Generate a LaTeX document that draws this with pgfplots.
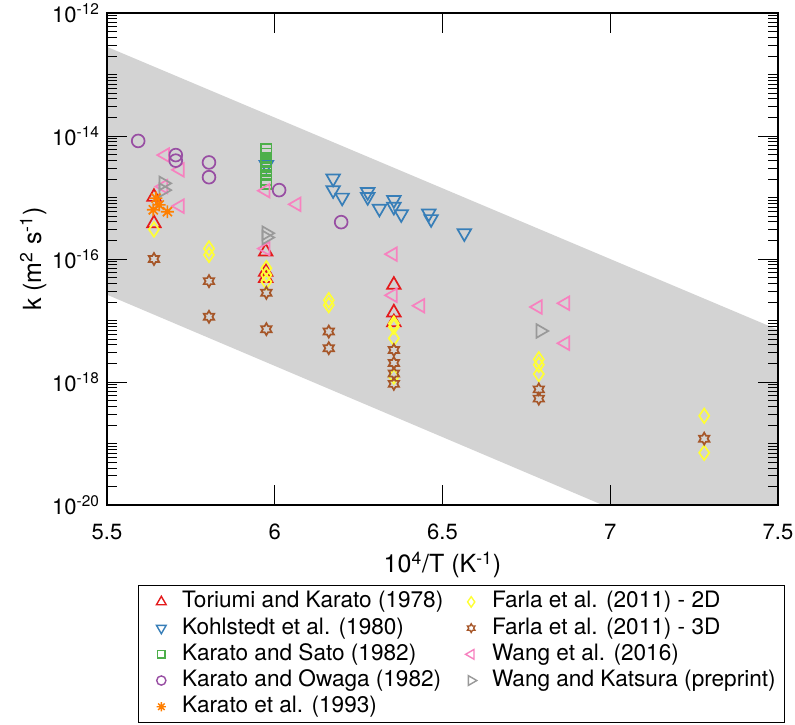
\documentclass[border=0pt]{standalone}
\usepackage{fontspec}
\setmainfont{TeX Gyre Heros}
\usepackage{pgfplots}
\pgfplotsset{compat=1.18}
\definecolor{cRed}{RGB}{228,26,28}
\definecolor{cBlue}{RGB}{55,126,184}
\definecolor{cGreen}{RGB}{77,175,74}
\definecolor{cPurple}{RGB}{152,78,163}
\definecolor{cOrange}{RGB}{255,127,0}
\definecolor{cYellow}{RGB}{255,255,51}
\definecolor{cBrown}{RGB}{166,86,40}
\definecolor{cPink}{RGB}{247,129,191}
\definecolor{cGray}{RGB}{153,153,153}
\definecolor{band}{RGB}{211,211,211}
\pgfdeclareplotmark{hexagram}{%
  \pgfpathmoveto{\pgfpointpolar{90}{\pgfplotmarksize}}%
  \pgfpathlineto{\pgfpointpolar{120}{0.577\pgfplotmarksize}}%
  \pgfpathlineto{\pgfpointpolar{150}{\pgfplotmarksize}}%
  \pgfpathlineto{\pgfpointpolar{180}{0.577\pgfplotmarksize}}%
  \pgfpathlineto{\pgfpointpolar{210}{\pgfplotmarksize}}%
  \pgfpathlineto{\pgfpointpolar{240}{0.577\pgfplotmarksize}}%
  \pgfpathlineto{\pgfpointpolar{270}{\pgfplotmarksize}}%
  \pgfpathlineto{\pgfpointpolar{300}{0.577\pgfplotmarksize}}%
  \pgfpathlineto{\pgfpointpolar{330}{\pgfplotmarksize}}%
  \pgfpathlineto{\pgfpointpolar{0}{0.577\pgfplotmarksize}}%
  \pgfpathlineto{\pgfpointpolar{30}{\pgfplotmarksize}}%
  \pgfpathlineto{\pgfpointpolar{60}{0.577\pgfplotmarksize}}%
  \pgfpathclose
  \pgfusepathqstroke}
\pgfdeclareplotmark{ast8}{%
  \pgfpathmoveto{\pgfqpoint{-\pgfplotmarksize}{0pt}}\pgfpathlineto{\pgfqpoint{\pgfplotmarksize}{0pt}}%
  \pgfpathmoveto{\pgfqpoint{0pt}{-\pgfplotmarksize}}\pgfpathlineto{\pgfqpoint{0pt}{\pgfplotmarksize}}%
  \pgfpathmoveto{\pgfqpoint{-.707\pgfplotmarksize}{-.707\pgfplotmarksize}}\pgfpathlineto{\pgfqpoint{.707\pgfplotmarksize}{.707\pgfplotmarksize}}%
  \pgfpathmoveto{\pgfqpoint{-.707\pgfplotmarksize}{.707\pgfplotmarksize}}\pgfpathlineto{\pgfqpoint{.707\pgfplotmarksize}{-.707\pgfplotmarksize}}%
  \pgfusepathqstroke}
\pgfdeclareplotmark{mydiamond}{%
  \pgfpathmoveto{\pgfqpoint{0pt}{1.3\pgfplotmarksize}}%
  \pgfpathlineto{\pgfqpoint{.9\pgfplotmarksize}{0pt}}%
  \pgfpathlineto{\pgfqpoint{0pt}{-1.3\pgfplotmarksize}}%
  \pgfpathlineto{\pgfqpoint{-.9\pgfplotmarksize}{0pt}}%
  \pgfpathclose
  \pgfusepathqstroke}
\begin{document}
\begin{tikzpicture}
\begin{axis}[
  scale only axis, width=335.5pt, height=246pt,
  xmin=5.5, xmax=7.5, ymode=log, ymin=1e-20, ymax=1e-12,
  xtick={5.5,6,6.5,7,7.5}, xticklabels={5.5,6,6.5,7,7.5},
  ytick={1e-20,1e-18,1e-16,1e-14,1e-12},
  yticklabels={10\textsuperscript{-20},10\textsuperscript{-18},10\textsuperscript{-16},10\textsuperscript{-14},10\textsuperscript{-12}},
  minor ytick={2e-20,3e-20,4e-20,5e-20,6e-20,7e-20,8e-20,9e-20,1e-19,
    2e-19,3e-19,4e-19,5e-19,6e-19,7e-19,8e-19,9e-19,
    2e-18,3e-18,4e-18,5e-18,6e-18,7e-18,8e-18,9e-18,1e-17,
    2e-17,3e-17,4e-17,5e-17,6e-17,7e-17,8e-17,9e-17,
    2e-16,3e-16,4e-16,5e-16,6e-16,7e-16,8e-16,9e-16,1e-15,
    2e-15,3e-15,4e-15,5e-15,6e-15,7e-15,8e-15,9e-15,
    2e-14,3e-14,4e-14,5e-14,6e-14,7e-14,8e-14,9e-14,1e-13,
    2e-13,3e-13,4e-13,5e-13,6e-13,7e-13,8e-13,9e-13},
  tick align=inside, xtick pos=both, ytick pos=both,
  major tick length=10pt, minor tick length=5pt,
  every tick/.style={black, line width=0.5pt},
  axis line style={black, line width=0.6pt},
  axis on top,
  tick label style={font=\fontsize{11}{13}\selectfont},
  xticklabel style={yshift=-6pt},
  xlabel={10\textsuperscript{4}/T (K\textsuperscript{-1})},
  ylabel={k (m\textsuperscript{2} s\textsuperscript{-1})},
  label style={font=\fontsize{12.5}{14}\selectfont},
  xlabel style={at={(axis description cs:0.5,-0.122)}, anchor=center},
  ylabel style={at={(axis description cs:-0.11,0.5)}, anchor=center},
  mk/.style={only marks, line width=0.85pt},
  legend columns=2,
  legend style={at={(axis description cs:0.046,-0.163)}, anchor=north west,
    draw=black, line width=0.6pt, font=\fontsize{11.3}{13}\selectfont,
    inner xsep=1pt, inner ysep=1.5pt,
    nodes={inner ysep=1.2pt, inner xsep=3.5pt, text height=8.3pt, text depth=2.4pt},
    /tikz/every even column/.append style={column sep=0pt},
    /tikz/every odd column/.append style={column sep=0.5pt}},
  legend cell align=left,
  legend image code/.code={\path (-10pt,0pt) (6pt,0pt); \draw[#1, line width=0.7pt, every mark/.append style={scale=0.72}] plot coordinates {(0pt,0pt)};},
]
\addplot[fill=band, draw=none, forget plot] coordinates {(5.5,2.82e-13) (7.5,7.08e-18) (7.5,6.17e-22) (5.5,2.63e-17)} -- cycle;

% Toriumi and Karato (1978)
\addplot[mk, cRed, mark=triangle, mark size=3.9pt] coordinates {
(5.640,1.02e-15) (5.640,3.80e-16) (5.973,1.32e-16) (5.973,6.17e-17) (5.973,4.90e-17)
(6.355,3.80e-17) (6.355,1.35e-17) (6.355,9.33e-18)};
\addlegendentry{Toriumi and Karato (1978)}
% Farla 2D
\addplot[mk, cYellow, mark=mydiamond, mark size=2.8pt] coordinates {
(5.640,3.02e-16) (5.804,1.48e-16) (5.804,1.17e-16) (5.975,7.08e-17) (5.975,5.50e-17) (5.975,4.27e-17)
(6.161,2.14e-17) (6.161,1.78e-17) (6.355,8.91e-18) (6.355,7.94e-18) (6.355,5.13e-18) (6.355,1.23e-18)
(6.787,2.34e-18) (6.787,1.91e-18) (6.787,1.35e-18) (7.280,2.82e-19) (7.280,7.08e-20)};
\addlegendentry{Farla et al. (2011) - 2D}
% Kohlstedt
\addplot[mk, cBlue, mark=triangle, mark size=3.9pt, mark options={rotate=180}] coordinates {
(5.975,3.39e-15) (6.174,2.04e-15) (6.174,1.32e-15) (6.201,1.00e-15) (6.277,1.23e-15) (6.277,1.02e-15)
(6.312,6.61e-16) (6.355,9.12e-16) (6.355,7.08e-16) (6.377,5.37e-16) (6.459,5.50e-16) (6.466,4.47e-16)
(6.565,2.63e-16)};
\addlegendentry{Kohlstedt et al. (1980)}
% Farla 3D
\addplot[mk, cBrown, mark=hexagram, mark size=3pt] coordinates {
(5.640,1.00e-16) (5.804,4.37e-17) (5.804,1.15e-17) (5.975,2.82e-17) (5.975,7.24e-18)
(6.161,6.61e-18) (6.161,3.55e-18) (6.355,3.31e-18) (6.355,2.04e-18) (6.355,1.38e-18) (6.355,9.33e-19)
(6.787,7.59e-19) (6.787,5.37e-19) (7.280,1.20e-19)};
\addlegendentry{Farla et al. (2011) - 3D}
% Karato and Sato
\addplot[mk, cGreen, mark=square, mark size=2.6pt] coordinates {
(5.975,6.03e-15) (5.975,5.13e-15) (5.975,4.37e-15) (5.975,3.72e-15) (5.975,3.16e-15)
(5.975,2.69e-15) (5.975,2.29e-15) (5.975,1.95e-15) (5.975,1.66e-15)};
\addlegendentry{Karato and Sato (1982)}
% Wang 2016
\addplot[mk, cPink, mark=triangle, mark size=3.9pt, mark options={rotate=90}] coordinates {
(5.673,4.90e-15) (5.717,2.82e-15) (5.668,1.51e-15) (5.717,7.24e-16) (5.973,1.29e-15) (6.065,7.76e-16)
(5.973,1.48e-16) (6.352,1.20e-16) (6.352,2.57e-17) (6.434,1.74e-17) (6.784,1.66e-17) (6.866,1.91e-17)
(6.866,4.27e-18)};
\addlegendentry{Wang et al. (2016)}
% Karato and Owaga
\addplot[mk, cPurple, mark=o, mark size=3.2pt] coordinates {
(5.593,8.32e-15) (5.705,4.90e-15) (5.705,3.98e-15) (5.804,3.72e-15) (5.804,2.14e-15) (6.013,1.32e-15)
(6.198,3.98e-16)};
\addlegendentry{Karato and Owaga (1982)}
% Wang and Katsura
\addplot[mk, cGray, mark=triangle, mark size=3.9pt, mark options={rotate=-90}] coordinates {
(5.668,1.70e-15) (5.668,1.32e-15) (5.975,2.63e-16) (5.975,2.24e-16) (6.792,6.76e-18)};
\addlegendentry{Wang and Katsura (preprint)}
% Karato et al 1993
\addplot[mk, cOrange, mark=ast8, mark size=3.2pt] coordinates {
(5.646,9.77e-16) (5.656,7.59e-16) (5.638,6.31e-16) (5.680,5.89e-16)};
\addlegendentry{Karato et al. (1993)}
\end{axis}
\pgfresetboundingbox
\path[use as bounding box] (-53.5pt,-109.5pt) rectangle (344pt,252.5pt);
\end{tikzpicture}
\end{document}
